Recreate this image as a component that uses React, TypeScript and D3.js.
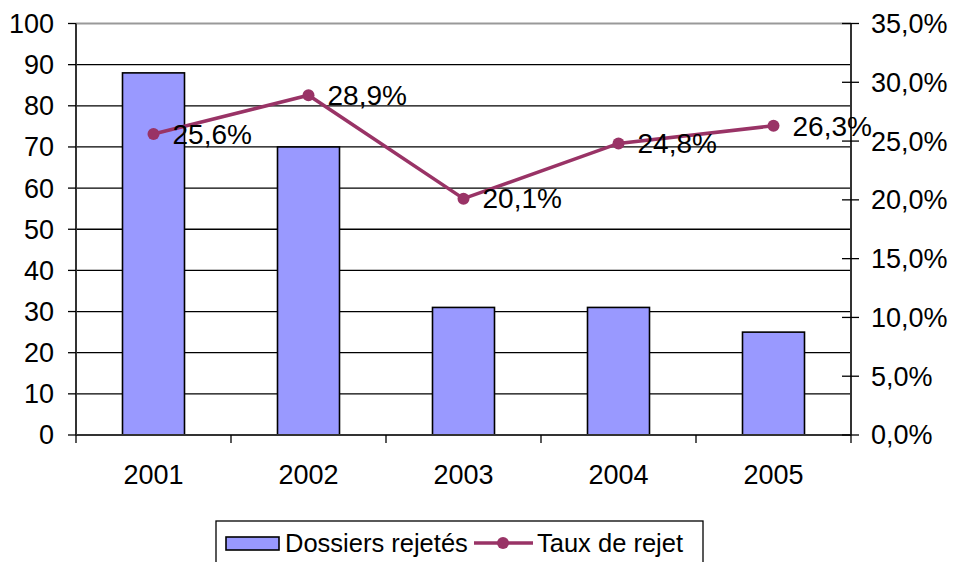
import React, { useEffect, useRef } from "react";
import * as d3 from "d3";

const years = ["2001", "2002", "2003", "2004", "2005"];
const dossiers = [88, 70, 31, 31, 25];
const taux = [25.6, 28.9, 20.1, 24.8, 26.3];
const leftTicks = [0, 10, 20, 30, 40, 50, 60, 70, 80, 90, 100];
const rightTicks = [0, 5, 10, 15, 20, 25, 30, 35];
const legendLabels = ["Dossiers rejetés", "Taux de rejet"];

const fmtPct = (v: number) => v.toFixed(1).replace(".", ",") + "%";

export default function App() {
  const ref = useRef<SVGSVGElement>(null);

  useEffect(() => {
    const width = 955,
      height = 562;
    const margin = { top: 23.5, right: 104, bottom: 127, left: 76 };
    const w = width - margin.left - margin.right,
      h = height - margin.top - margin.bottom;

    const svg = d3.select(ref.current);
    svg.selectAll("*").remove();
    const font = "'Liberation Sans', Arial, sans-serif";
    const fs = 27;

    const g = svg
      .append("g")
      .attr("transform", "translate(" + margin.left + "," + margin.top + ")");

    const x = d3.scaleBand().domain(years).range([0, w]);
    const y = d3.scaleLinear().domain([0, 100]).range([h, 0]);
    const y2 = d3.scaleLinear().domain([0, 35]).range([h, 0]);

    // gridlines
    g.selectAll("line.grid")
      .data(leftTicks.filter((t) => t > 0))
      .enter()
      .append("line")
      .attr("x1", 0)
      .attr("x2", w)
      .attr("y1", (d) => y(d))
      .attr("y2", (d) => y(d))
      .attr("stroke", (d) => (d === 100 ? "#999" : "#000"))
      .attr("stroke-width", (d) => (d === 100 ? 2 : 1.3));

    // bars
    const bw = 62;
    g.selectAll("rect.bar")
      .data(dossiers)
      .enter()
      .append("rect")
      .attr("x", (d, i) => x(years[i])! + x.bandwidth() / 2 - bw / 2)
      .attr("y", (d) => y(d))
      .attr("width", bw)
      .attr("height", (d) => h - y(d))
      .attr("fill", "#9999ff")
      .attr("stroke", "#000")
      .attr("stroke-width", 1.6);

    // axes lines
    g.append("line").attr("x1", 0).attr("x2", 0).attr("y1", 0).attr("y2", h)
      .attr("stroke", "#333").attr("stroke-width", 2);
    g.append("line").attr("x1", w).attr("x2", w).attr("y1", 0).attr("y2", h)
      .attr("stroke", "#333").attr("stroke-width", 2);
    g.append("line").attr("x1", 0).attr("x2", w).attr("y1", h).attr("y2", h)
      .attr("stroke", "#333").attr("stroke-width", 2);

    // left ticks
    leftTicks.forEach((t) => {
      g.append("line").attr("x1", -8).attr("x2", 0).attr("y1", y(t)).attr("y2", y(t))
        .attr("stroke", "#000").attr("stroke-width", 1.3);
      g.append("text")
        .attr("x", -22)
        .attr("y", y(t))
        .attr("dy", "0.35em")
        .attr("text-anchor", "end")
        .attr("font-family", font)
        .attr("font-size", fs)
        .text(t);
    });

    // right ticks
    rightTicks.forEach((t) => {
      g.append("line").attr("x1", w - 9).attr("x2", w + 8).attr("y1", y2(t)).attr("y2", y2(t))
        .attr("stroke", "#000").attr("stroke-width", 1.3);
      g.append("text")
        .attr("x", w + 20)
        .attr("y", y2(t))
        .attr("dy", "0.35em")
        .attr("font-family", font)
        .attr("font-size", fs)
        .text(fmtPct(t));
    });

    // x ticks and labels
    [0, 1, 2, 3, 4, 5].forEach((i) => {
      const xx = (w / 5) * i;
      g.append("line").attr("x1", xx).attr("x2", xx).attr("y1", h).attr("y2", h + 8)
        .attr("stroke", "#000").attr("stroke-width", 1.3);
    });
    years.forEach((yr) => {
      g.append("text")
        .attr("x", x(yr)! + x.bandwidth() / 2)
        .attr("y", h + 40)
        .attr("dy", "0.35em")
        .attr("text-anchor", "middle")
        .attr("font-family", font)
        .attr("font-size", fs)
        .text(yr);
    });

    // line
    const color = "#993366";
    const line = d3
      .line<number>()
      .x((d, i) => x(years[i])! + x.bandwidth() / 2)
      .y((d) => y2(d));
    g.append("path")
      .datum(taux)
      .attr("d", line)
      .attr("fill", "none")
      .attr("stroke", color)
      .attr("stroke-width", 3.5);
    g.selectAll("circle.pt")
      .data(taux)
      .enter()
      .append("circle")
      .attr("cx", (d, i) => x(years[i])! + x.bandwidth() / 2)
      .attr("cy", (d) => y2(d))
      .attr("r", 6)
      .attr("fill", color);
    g.selectAll("text.lbl")
      .data(taux)
      .enter()
      .append("text")
      .attr("x", (d, i) => x(years[i])! + x.bandwidth() / 2 + 19)
      .attr("y", (d) => y2(d))
      .attr("dy", "0.35em")
      .attr("font-family", font)
      .attr("font-size", 28)
      .text((d) => fmtPct(d));

    // legend
    const lfs = 25.5;
    const lg = svg.append("g");
    lg.append("rect").attr("x", 216).attr("y", 521).attr("width", 487).attr("height", 45)
      .attr("fill", "#fff").attr("stroke", "#000").attr("stroke-width", 1.3);
    lg.append("rect").attr("x", 226).attr("y", 537).attr("width", 53).attr("height", 13)
      .attr("fill", "#9999ff").attr("stroke", "#000").attr("stroke-width", 1.6);
    lg.append("text").attr("x", 285).attr("y", 543).attr("dy", "0.35em")
      .attr("font-family", font).attr("font-size", lfs).text(legendLabels[0]);
    lg.append("line").attr("x1", 474).attr("x2", 533).attr("y1", 543).attr("y2", 543)
      .attr("stroke", color).attr("stroke-width", 3.5);
    lg.append("circle").attr("cx", 503).attr("cy", 543).attr("r", 6).attr("fill", color);
    lg.append("text").attr("x", 537).attr("y", 543).attr("dy", "0.35em")
      .attr("font-family", font).attr("font-size", lfs).text(legendLabels[1]);
  }, []);

  return (
    <svg
      ref={ref}
      width={955}
      height={562}
      style={{ position: "absolute", left: 0, top: 0, background: "#fff" }}
    />
  );
}
